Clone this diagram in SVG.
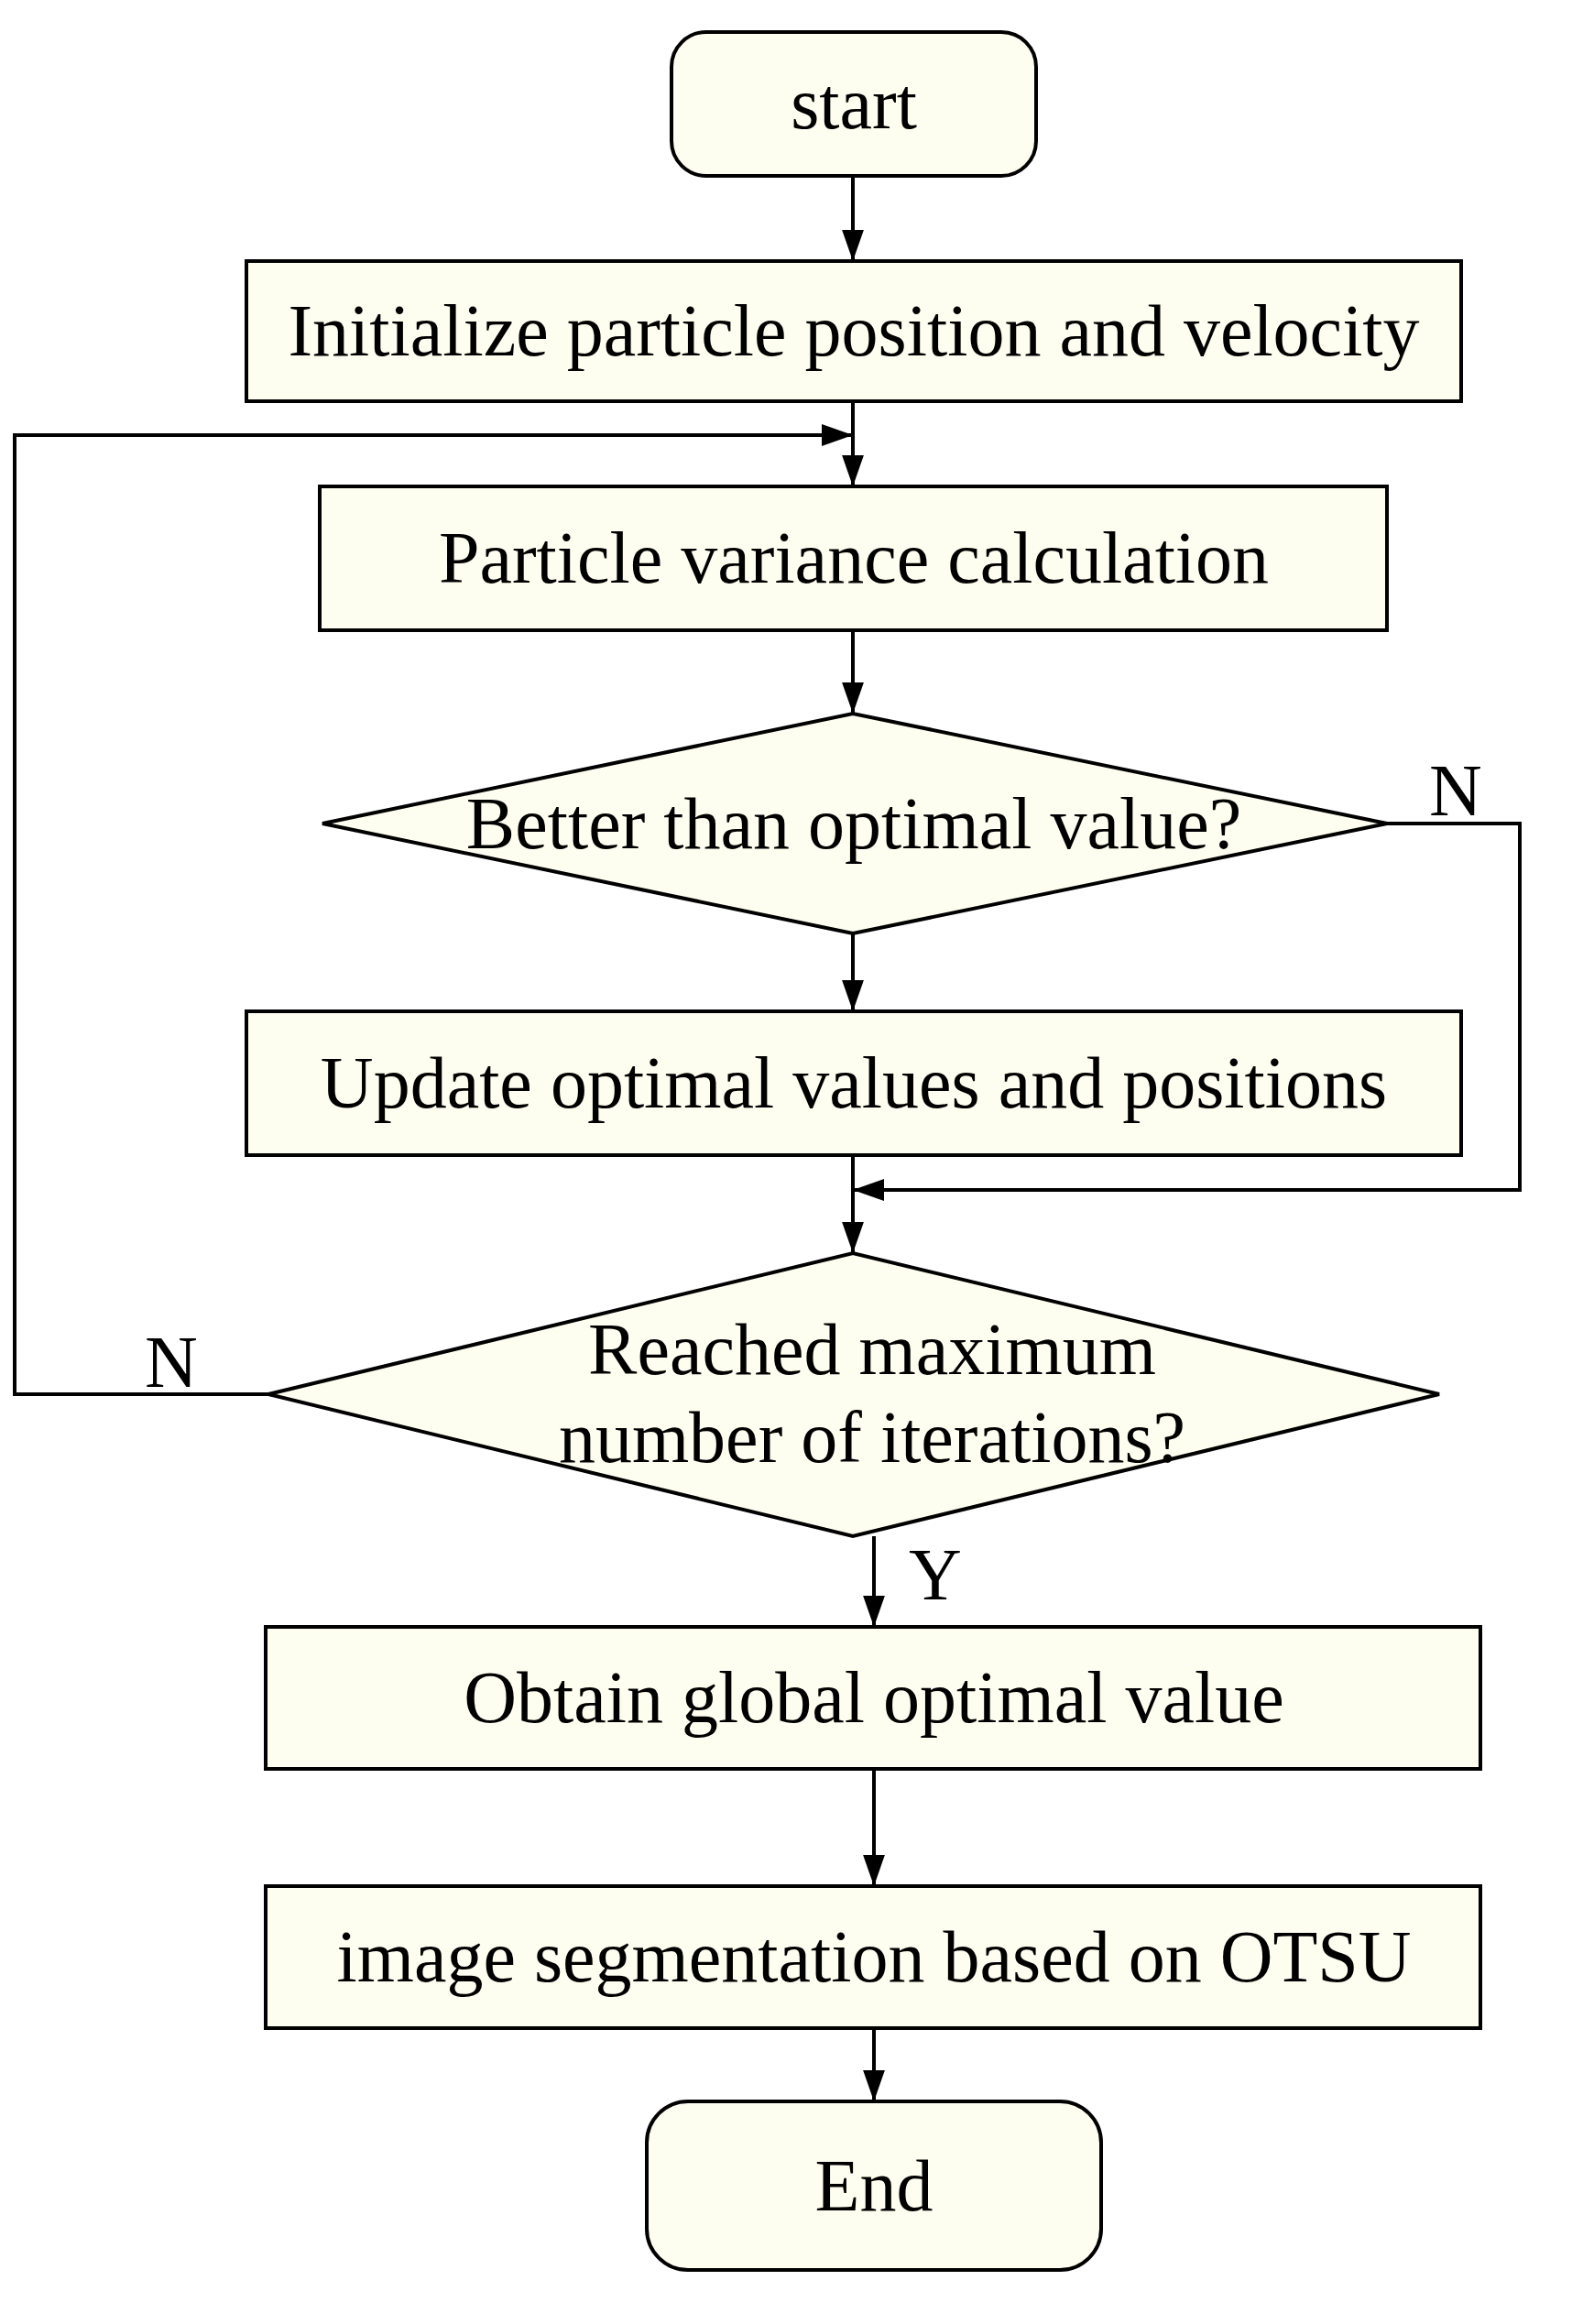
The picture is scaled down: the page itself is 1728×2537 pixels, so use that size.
<svg xmlns="http://www.w3.org/2000/svg" width="1728" height="2537" viewBox="0 0 1728 2537">
<style>
.n{fill:#fefef0;stroke:#000;stroke-width:4}
.t{font-family:"Liberation Serif",serif;font-size:80px;text-anchor:middle;fill:#000}
.c{fill:none;stroke:#000;stroke-width:4}
</style>
<defs><marker id="b" viewBox="0 0 10 10" refX="10" refY="5" markerWidth="34" markerHeight="34" markerUnits="userSpaceOnUse" orient="auto"><path d="M0,1.5L10,5L0,8.5z"/></marker></defs>
<rect width="1728" height="2537" fill="#fff"/>
<g id="connectors">
<path class="c" d="M931 192V285" marker-end="url(#b)"/>
<path class="c" d="M931 438V531" marker-end="url(#b)"/>
<path class="c" d="M931 688V779" marker-end="url(#b)"/>
<path class="c" d="M931 1019V1104" marker-end="url(#b)"/>
<path class="c" d="M931 1261V1368" marker-end="url(#b)"/>
<path class="c" d="M954 1677V1776" marker-end="url(#b)"/>
<path class="c" d="M954 1931V2059" marker-end="url(#b)"/>
<path class="c" d="M954 2214V2294" marker-end="url(#b)"/>
<path class="c" d="M293 1522H16V475H931" marker-end="url(#b)"/>
<path class="c" d="M1514 899H1659V1299H931" marker-end="url(#b)"/>
<text class="t" x="1589" y="890">N</text>
<text class="t" x="187" y="1514">N</text>
<text class="t" x="1021" y="1746">Y</text>
</g>
<g id="start"><rect class="n" x="733" y="35" width="398" height="157" rx="38"/><text class="t" x="932" y="140">start</text></g>
<g id="init"><rect class="n" x="269" y="285" width="1326" height="153"/><text class="t" x="932" y="388">Initialize particle position and velocity</text></g>
<g id="variance"><rect class="n" x="349" y="531" width="1165" height="157"/><text class="t" x="932" y="636">Particle variance calculation</text></g>
<g id="better"><path class="n" d="M352 899L931 779L1514 899L931 1019Z"/><text class="t" x="932" y="926">Better than optimal value?</text></g>
<g id="update"><rect class="n" x="269" y="1104" width="1326" height="157"/><text class="t" x="932" y="1209">Update optimal values and positions</text></g>
<g id="reached"><path class="n" d="M293 1522L931 1368L1571 1522L931 1677Z"/><text class="t" x="952" y="1500">Reached maximum</text><text class="t" x="952" y="1596">number of iterations?</text></g>
<g id="obtain"><rect class="n" x="290" y="1776" width="1326" height="155"/><text class="t" x="954" y="1880">Obtain global optimal value</text></g>
<g id="otsu"><rect class="n" x="290" y="2059" width="1326" height="155"/><text class="t" x="954" y="2163">image segmentation based on OTSU</text></g>
<g id="end"><rect class="n" x="706" y="2294" width="496" height="184" rx="45"/><text class="t" x="954" y="2413">End</text></g>
</svg>
